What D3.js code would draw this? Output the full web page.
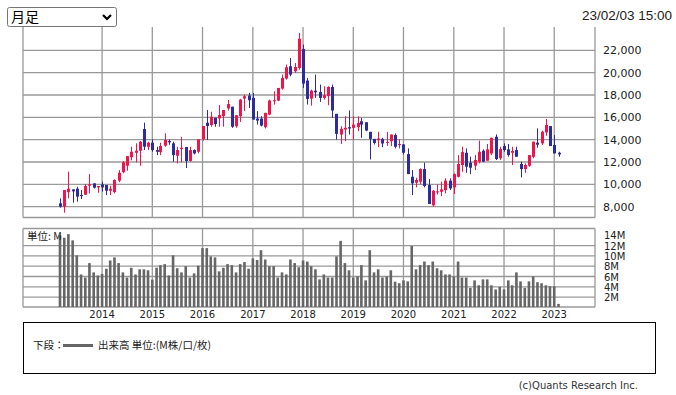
<!DOCTYPE html>
<html>
<head>
<meta charset="utf-8">
<script src="https://cdn.jsdelivr.net/npm/d3@7"></script>
<style>
  html, body { margin: 0; padding: 0; background: #fff; }
  svg { display: block; }
</style>
</head>
<body>
<script>
// monthly candles, Mar 2013 .. Feb 2023
const startMonth = new Date(2013, 2, 1);
const endMonth = new Date(2023, 1, 1);
const months = d3.timeMonth.range(startMonth, d3.timeMonth.offset(endMonth, 1));

const opens = [8300,8000,9300,9550,9610,9050,9070,9880,10090,9730,
  10000,9940,9430,9310,10330,11100,11670,12420,12830,13010,
  14950,13370,13730,13070,12890,13460,13880,13670,12560,13160,
  13340,12090,13070,12920,14030,15520,15310,15960,15900,16110,
  16800,16950,15200,16100,17680,17950,17740,15890,15890,15120,
  16250,17440,17500,18570,19470,20570,20120,20420,22120,19290,
  17680,18390,18270,17740,17890,18720,16310,14460,14910,15120,
  15060,15120,15650,15560,14700,14070,13950,14070,13720,13860,
  14410,13520,13580,12710,10680,10150,10240,11370,9940,8120,
  9310,9340,9490,10330,9730,10680,11730,12830,11940,11670,
  12030,13010,12120,12770,14260,12330,13430,13130,12830,13070,
  11820,11370,11670,12470,13730,13670,14650,15220,13520,12830];

const highs = [8750,9490,11130,9550,9790,9490,10030,10920,10090,9850,
  10240,9940,9880,10450,11280,12090,12530,13370,13670,13880,
  15520,13820,14030,13370,13730,14560,14030,13820,13370,14260,
  13340,13370,13130,14030,15220,16650,16500,15960,17100,16650,
  17550,16950,16190,17650,18040,18190,18190,16550,16100,16400,
  17590,18330,18630,19830,20720,21310,20870,23550,22510,19530,
  18480,19830,18930,18780,18780,18930,16310,15200,16100,16610,
  16100,16100,15950,15560,14700,14070,14700,14160,14700,14460,
  14560,14030,13580,13220,11280,10600,11430,11940,10480,9490,
  10000,10240,10540,10540,10980,12620,13370,13220,12480,12620,
  13910,13130,13610,14170,14470,13370,13670,13610,13370,13370,
  12030,11880,12620,13820,15010,14800,15850,15220,14410,12920];

const lows = [7910,7460,8750,8360,8450,8690,9050,9190,9640,9250,
  9340,9040,9040,9190,10200,10990,11230,12150,11970,11670,
  13070,13070,12920,12620,12620,13370,13550,12030,11880,11970,
  11460,12030,12680,12770,13910,13970,15160,15160,15160,15160,
  16600,15060,15060,15590,16550,16840,15800,15350,15200,15000,
  16190,17140,17440,18480,19380,19680,19980,20270,18630,17140,
  17050,17740,17380,17590,17080,15950,14010,13620,13860,14460,
  14010,14760,14160,14760,12230,13570,13330,13330,13450,13420,
  13220,13220,12680,10920,9040,9730,10000,9730,8240,8000,
  9100,8950,9190,9490,9130,10620,11130,11040,10920,11280,
  11880,12030,12120,12620,12180,12180,12920,12470,11730,12470,
  10620,11040,11580,12330,13280,13520,14350,13430,12770,12470];

const closes = [8000,9490,9610,9370,8900,8950,9850,10000,9700,9850,
  9730,9430,9610,10390,11040,11970,12530,12920,13010,13820,
  13370,13730,13070,12920,13430,13970,13760,12620,13070,13280,
  12090,13070,12770,14030,15220,15220,16050,15400,16200,16650,
  17190,15160,16190,17590,17890,17530,15800,15710,15260,16400,
  17500,17530,18630,19530,20480,19830,20510,23040,19020,17650,
  18390,18240,17740,17980,18720,16610,14520,14970,15060,15000,
  15350,15500,15350,14820,14070,13710,14100,13660,13800,14460,
  13370,13610,12830,10920,10090,10390,11370,9850,8240,9430,
  9370,9550,10330,9640,10920,11820,12890,11580,11490,12180,
  12920,12030,13130,14170,12270,13160,13070,12620,12980,12470,
  11370,11730,12620,13820,13550,14710,15310,13430,12770,12680];

// volume, millions
const volumes = [14.0,13.5,14.2,13.0,10.1,6.4,5.8,8.6,6.8,6.2,
  6.5,7.5,9.1,9.7,8.6,6.8,5.8,7.7,6.4,7.4,
  7.4,7.2,5.4,7.7,8.2,8.4,6.2,10.1,7.6,6.8,
  8.0,5.8,6.6,8.1,11.5,11.5,9.9,9.7,7.0,7.7,
  8.4,8.2,6.8,8.4,8.8,7.5,9.5,9.2,11.1,9.3,
  8.0,8.0,5.8,6.8,6.4,9.3,8.6,7.8,9.1,8.9,
  8.0,7.4,5.45,6.4,5.8,5.8,9.9,12.9,8.6,7.2,
  5.8,6.0,8.2,5.25,11.1,6.8,7.4,5.8,6.0,7.2,
  5.0,4.7,5.25,5.06,11.9,7.4,8.2,8.9,8.2,8.9,
  7.6,7.2,6.4,6.4,6.0,8.9,5.8,5.8,3.8,5.25,
  4.3,5.45,5.45,4.3,3.5,4.0,3.5,5.25,4.3,6.8,
  5.06,3.8,5.06,6.0,4.9,4.7,4.3,4.1,4.1,0.7];

const priceTicks = [8000,10000,12000,14000,16000,18000,20000,22000];
const volumeTicks = [2,4,6,8,10,12,14];
const yearTicks = d3.range(2014, 2024).map(y => new Date(y, 0, 1));

const width = 676, height = 395;
const left = 23, right = 595;
const upColor = "#f0144a", downColor = "#2c2c9c";
const gridColor = "#999";

const svg = d3.select("body").append("svg")
    .attr("width", width)
    .attr("height", height)
    .style("font-family", "'DejaVu Sans', sans-serif");

const x = d3.scaleTime().domain([startMonth, endMonth]).range([60, 558.5]);
const y = d3.scaleLinear().domain([8000, 22000]).range([206.7, 50.3]);
const yv = d3.scaleLinear().domain([0, 14]).range([307.5, 235.2]);

// select box
const sel = svg.append("g");
sel.append("rect")
    .attr("x", 7.5).attr("y", 7.5).attr("width", 109).attr("height", 19)
    .attr("rx", 2)
    .attr("fill", "#fff").attr("stroke", "#767676");
sel.append("text")
    .attr("x", 11).attr("y", 22)
    .style("font-family", "'Noto Sans CJK JP', sans-serif")
    .style("font-size", "14px")
    .text("月足");
sel.append("path")
    .attr("d", "M103,15 L107,19 L111,15")
    .attr("fill", "none").attr("stroke", "#000").attr("stroke-width", 2.2);

svg.append("text")
    .attr("x", 672).attr("y", 20)
    .attr("text-anchor", "end")
    .style("font-family", "'Liberation Sans', Arial, sans-serif")
    .style("font-size", "13.5px")
    .attr("fill", "#222")
    .text("23/02/03 15:00");

// price panel grid
const pTop = 27, pBottom = 217.5;
const grid = svg.append("g").attr("stroke", gridColor).attr("stroke-width", 1.3);
grid.selectAll(".ph").data(priceTicks).enter().append("line")
    .attr("x1", left).attr("x2", right)
    .attr("y1", d => y(d)).attr("y2", d => y(d));
grid.selectAll(".pv").data(yearTicks).enter().append("line")
    .attr("x1", d => x(d)).attr("x2", d => x(d))
    .attr("y1", pTop).attr("y2", pBottom);
grid.append("line").attr("x1", left).attr("x2", right).attr("y1", pBottom).attr("y2", pBottom);
grid.append("line").attr("x1", left).attr("x2", left).attr("y1", pTop).attr("y2", pBottom);
grid.append("line").attr("x1", right).attr("x2", right).attr("y1", pTop).attr("y2", pBottom);

svg.selectAll(".plabel").data(priceTicks).enter().append("text")
    .attr("x", 603).attr("y", d => y(d) + 4)
    .style("font-size", "11px")
    .attr("fill", "#222")
    .text(d => d3.format(",")(d));

// volume panel grid
const vTop = 228.5, vBottom = 307;
grid.selectAll(".vh").data(volumeTicks.filter(d => d < 14)).enter().append("line")
    .attr("x1", left).attr("x2", right)
    .attr("y1", d => yv(d)).attr("y2", d => yv(d));
grid.selectAll(".vv").data(yearTicks).enter().append("line")
    .attr("x1", d => x(d)).attr("x2", d => x(d))
    .attr("y1", vTop).attr("y2", vBottom);
grid.append("line").attr("x1", left).attr("x2", right).attr("y1", vTop).attr("y2", vTop);
grid.append("line").attr("x1", left).attr("x2", right).attr("y1", vBottom).attr("y2", vBottom);
grid.append("line").attr("x1", left).attr("x2", left).attr("y1", vTop).attr("y2", vBottom);
grid.append("line").attr("x1", right).attr("x2", right).attr("y1", vTop).attr("y2", vBottom);

svg.selectAll(".vlabel").data(volumeTicks).enter().append("text")
    .attr("x", 604).attr("y", d => yv(d) + 4)
    .style("font-size", "10px")
    .attr("fill", "#222")
    .text(d => d + "M");

svg.selectAll(".ylabel").data(yearTicks).enter().append("text")
    .attr("x", d => x(d)).attr("y", 318)
    .attr("text-anchor", "middle")
    .style("font-size", "10px")
    .attr("fill", "#222")
    .text(d => d.getFullYear());

// volume bars
svg.append("g").selectAll("rect").data(months).enter().append("rect")
    .attr("x", d => x(d) - 1.3)
    .attr("width", 2.6)
    .attr("y", (d, i) => yv(volumes[i]))
    .attr("height", (d, i) => Math.max(0, vBottom - yv(volumes[i])))
    .attr("fill", "#666");

svg.append("text")
    .attr("x", 27).attr("y", 240)
    .style("font-family", "'Noto Sans CJK JP', sans-serif")
    .style("font-size", "10.5px")
    .attr("fill", "#222")
    .text("単位: M");

// candles
const candles = svg.append("g").selectAll("g").data(months).enter().append("g")
    .attr("fill", (d, i) => closes[i] >= opens[i] ? upColor : downColor)
    .attr("stroke", (d, i) => closes[i] >= opens[i] ? upColor : downColor);
candles.append("line")
    .attr("x1", d => Math.round(x(d)) + 0.5).attr("x2", d => Math.round(x(d)) + 0.5)
    .attr("y1", (d, i) => y(highs[i])).attr("y2", (d, i) => y(lows[i]))
    .attr("stroke-width", 1);
candles.append("rect")
    .attr("x", d => Math.round(x(d)) - 1)
    .attr("width", 3)
    .attr("y", (d, i) => y(Math.max(opens[i], closes[i])))
    .attr("height", (d, i) => Math.max(1, Math.abs(y(opens[i]) - y(closes[i]))))
    .attr("stroke", "none");

// legend
svg.append("rect")
    .attr("x", 23.5).attr("y", 322.5).attr("width", 632).attr("height", 51)
    .attr("fill", "none").attr("stroke", "#000");
const lg = svg.append("g").style("font-family", "'Noto Sans CJK JP', sans-serif").style("font-size", "10.5px").attr("fill", "#222");
lg.append("text").attr("x", 33).attr("y", 349).text("下段：");
svg.append("line").attr("x1", 63).attr("x2", 93).attr("y1", 345.5).attr("y2", 345.5)
    .attr("stroke", "#666").attr("stroke-width", 3);
lg.append("text").attr("x", 98).attr("y", 349).text("出来高 単位:(M株/口/枚)");

svg.append("text")
    .attr("x", 638).attr("y", 389)
    .attr("text-anchor", "end")
    .style("font-size", "10px")
    .attr("fill", "#333")
    .text("(c)Quants Research Inc.");
</script>
</body>
</html>
